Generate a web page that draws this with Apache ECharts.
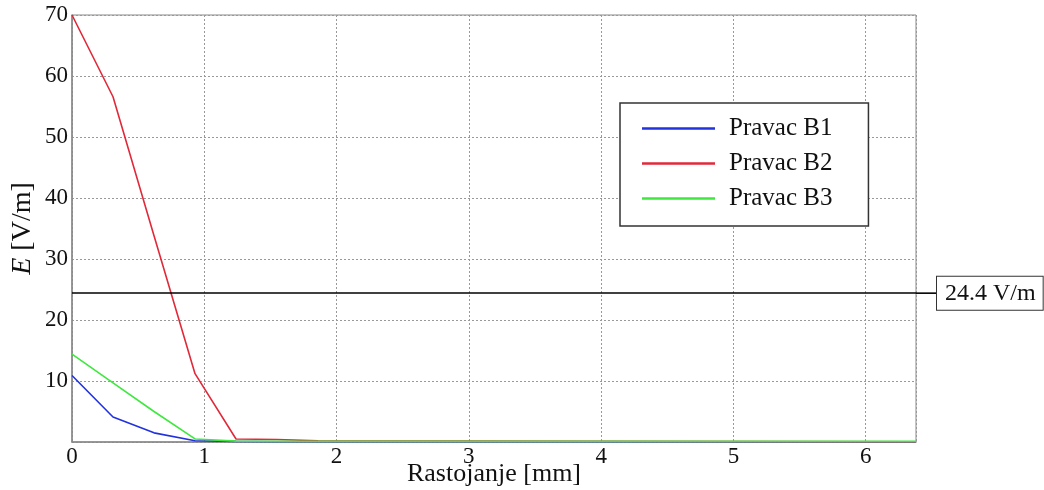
<!DOCTYPE html>
<html><head><meta charset="utf-8">
<script src="https://cdn.jsdelivr.net/npm/echarts@6/dist/echarts.min.js"></script>
<style>html,body{margin:0;padding:0;background:#fff}#c{width:1044px;height:490px}</style>
</head><body><div id="c"></div>
<script>
const distances = [0, 0.31, 0.62, 0.93, 1.24, 1.55, 1.86, 6.38];
const seriesNames = ['Pravac B1', 'Pravac B2', 'Pravac B3'];
const valuesB1 = [10.9, 4.1, 1.5, 0.2, 0.1, 0.05, 0.05, 0.05];
const valuesB2 = [70, 56.6, 33.8, 11.2, 0.5, 0.4, 0.2, 0.05];
const valuesB3 = [14.4, 9.7, 5.0, 0.5, 0.15, 0.1, 0.1, 0.1];
const limitValue = 24.4;
const limitLabel = '24.4 V/m';
const yTicks = [10, 20, 30, 40, 50, 60, 70];
const xTicks = [0, 1, 2, 3, 4, 5, 6];

const colors = ['#2233dd', '#e02a3a', '#3ee83e'];
const font = 'Liberation Serif';
const allValues = [valuesB1, valuesB2, valuesB3];

const series = seriesNames.map((n, i) => ({
  name: n, type: 'line', showSymbol: false, symbol: 'none',
  data: distances.map((d, j) => [d, allValues[i][j]]),
  lineStyle: { color: colors[i], width: 1.6 }, itemStyle: { color: colors[i] },
  z: 3 + i
}));
series[0].markLine = {
  silent: true, symbol: 'none',
  lineStyle: { color: '#000', width: 1.6, type: 'solid' },
  data: [{ yAxis: limitValue }],
  label: {
    position: 'end', distance: 0,
    formatter: '{a|}{b|' + limitLabel + '}',
    rich: {
      a: { width: 21, height: 1.6, backgroundColor: '#000' },
      b: { fontFamily: font, fontSize: 24, color: '#111', borderColor: '#333', borderWidth: 1,
           padding: [5, 7, 4, 8], backgroundColor: '#fff' }
    }
  }
};

const chart = echarts.init(document.getElementById('c'));
chart.setOption({
  animation: false,
  backgroundColor: '#fff',
  grid: { left: 72, top: 15, right: 128, bottom: 48, outerBoundsMode: 'none', containLabel: false,
          show: true, borderColor: '#888', borderWidth: 1, backgroundColor: 'transparent' },
  legend: {
    orient: 'vertical', left: 620, top: 103, width: 248,
    data: seriesNames,
    icon: 'rect', itemWidth: 73, itemHeight: 2.5, itemGap: 10,
    padding: [13, 36, 15, 22],
    borderColor: '#333', borderWidth: 1.5, backgroundColor: '#fff',
    textStyle: { fontFamily: font, fontSize: 25, color: '#111', padding: [0, 0, 0, 9] }
  },
  xAxis: {
    type: 'value', min: 0, max: 6.38, interval: 1,
    name: 'Rastojanje [mm]', nameLocation: 'middle', nameGap: 19, nameMoveOverlap: false,
    nameTextStyle: { fontFamily: font, fontSize: 26, color: '#111' },
    axisLine: { lineStyle: { color: '#888', width: 1.5 } },
    axisTick: { show: false },
    axisLabel: { fontFamily: font, fontSize: 23, color: '#111', margin: 3, showMaxLabel: false,
      formatter: v => xTicks.includes(v) ? String(v) : '' },
    splitLine: { show: true, lineStyle: { color: '#999', type: [2, 2], width: 1 } }
  },
  yAxis: {
    type: 'value', min: 0, max: 70, interval: 10,
    name: '{i|E} [V/m]', nameLocation: 'middle', nameGap: 35, nameRotate: 90, nameMoveOverlap: false,
    nameTextStyle: { fontFamily: font, fontSize: 28, color: '#111',
      rich: { i: { fontFamily: font, fontSize: 28, fontStyle: 'italic', color: '#111' } } },
    axisLine: { show: true, lineStyle: { color: '#888', width: 1.5 } },
    axisTick: { show: false },
    axisLabel: { fontFamily: font, fontSize: 23, color: '#111', margin: 4,
      formatter: v => yTicks.includes(v) ? String(v) : '' },
    splitLine: { show: true, lineStyle: { color: '#999', type: [2, 2], width: 1 } }
  },
  series: series
});
</script></body></html>
